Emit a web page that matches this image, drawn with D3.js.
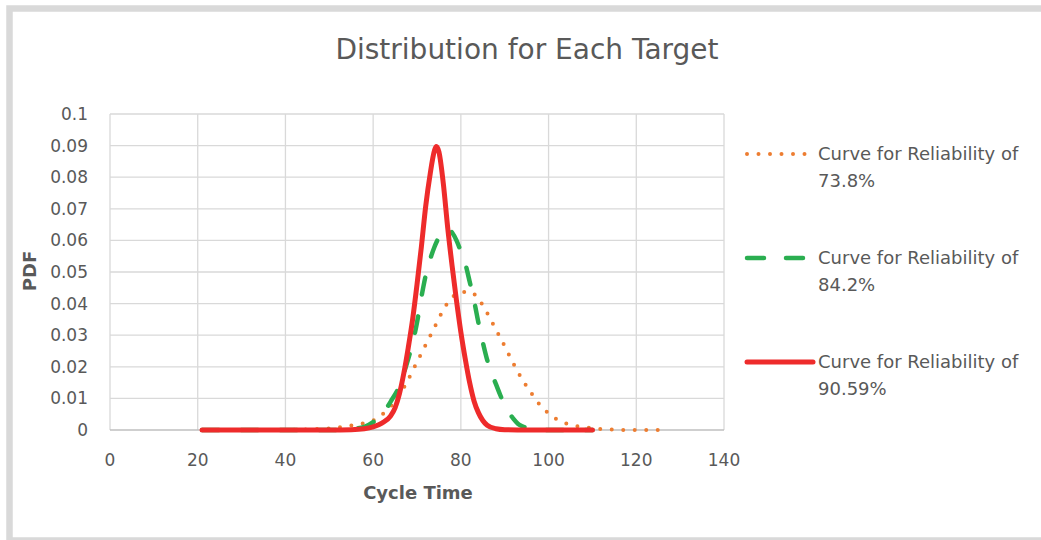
<!DOCTYPE html>
<html>
<head>
<meta charset="utf-8">
<script src="https://cdn.jsdelivr.net/npm/d3@7"></script>
<style>
  body { margin: 0; background: #fff; }
  text { font-family: "DejaVu Sans", sans-serif; fill: #595959; }
</style>
</head>
<body>
<div id="chart"></div>
<script>
// values
var vTitle = "Distribution for Each Target";
var vXTicks = [0, 20, 40, 60, 80, 100, 120, 140];
var vYTicks = [0, 0.01, 0.02, 0.03, 0.04, 0.05, 0.06, 0.07, 0.08, 0.09, 0.1];

var vOrangeX = [21, 40, 45, 50, 54, 56, 58, 60, 62, 64, 66, 68, 70, 72, 74, 76, 78, 80, 82, 84, 86, 88, 90, 92, 94, 96, 98, 100, 102, 104, 106, 108, 110, 112, 115, 120, 125];
var vOrangeY = [0, 0, 0.0002, 0.0005, 0.0012, 0.0017, 0.0022, 0.003, 0.0048, 0.0075, 0.011, 0.016, 0.0215, 0.027, 0.0325, 0.038, 0.042, 0.0435, 0.0438, 0.0415, 0.037, 0.0318, 0.0265, 0.021, 0.016, 0.0118, 0.008, 0.0053, 0.0033, 0.0021, 0.0013, 0.0009, 0.0006, 0.0003, 0.0001, 0, 0];

var vGreenX = [21, 50, 55, 58, 60, 62, 63, 64, 66, 67, 68, 69, 70, 71, 72, 73, 74, 75, 76, 77, 78, 79, 80, 81, 82, 83, 84, 85, 86, 87, 88, 89, 90, 91, 92, 93, 94, 96, 98, 100, 110];
var vGreenY = [0, 0, 0.0003, 0.001, 0.0025, 0.005, 0.0068, 0.009, 0.014, 0.018, 0.0225, 0.0275, 0.034, 0.042, 0.049, 0.054, 0.058, 0.061, 0.063, 0.0637, 0.0625, 0.06, 0.0565, 0.0527, 0.047, 0.041, 0.034, 0.0278, 0.0222, 0.018, 0.0145, 0.011, 0.0078, 0.0055, 0.0035, 0.002, 0.0012, 0.0004, 0.0001, 0, 0];

var vRedX = [21, 40, 50, 55, 58, 60, 62, 64, 65, 66, 67, 68, 69, 70, 71, 72, 73, 74, 74.4, 75, 76, 77, 78, 79, 80, 81, 82, 83, 84, 85, 86, 88, 90, 95, 110];
var vRedY = [0, 0, 0, 0.0001, 0.0004, 0.001, 0.0022, 0.0045, 0.007, 0.0115, 0.018, 0.026, 0.035, 0.046, 0.058, 0.071, 0.081, 0.0885, 0.0897, 0.088, 0.078, 0.064, 0.052, 0.041, 0.031, 0.0225, 0.015, 0.0092, 0.0055, 0.003, 0.0015, 0.0004, 0.0001, 0, 0];

var vSeriesNames = ["Curve for Reliability of", "Curve for Reliability of", "Curve for Reliability of"];
var vSeriesPcts = ["73.8%", "84.2%", "90.59%"];

// build series from the arrays
var vSeries = [
    { mX: vOrangeX, mY: vOrangeY, mColor: "#ed7d31", mWidth: 4, mDash: "0 11.5" },
    { mX: vGreenX, mY: vGreenY, mColor: "#2aae50", mWidth: 4.5, mDash: "17 22" },
    { mX: vRedX, mY: vRedY, mColor: "#ee2b2b", mWidth: 5, mDash: null }
];

var vWidth = 1041, vHeight = 540;

var svg = d3.select("#chart")
    .append("svg")
    .attr("width", vWidth)
    .attr("height", vHeight);

// outer frame
svg.append("rect")
    .attr("x", 9.5)
    .attr("y", 8.5)
    .attr("width", vWidth + 20)
    .attr("height", 532)
    .attr("fill", "none")
    .attr("stroke", "#d9d9d9")
    .attr("stroke-width", 6.5);

var x = d3.scaleLinear().domain([0, 140]).range([110, 724]);
var y = d3.scaleLinear().domain([0, 0.1]).range([430, 114]);

// gridlines
svg.append("g")
    .selectAll("line")
    .data(vYTicks.slice(1))
    .enter()
    .append("line")
    .attr("x1", x(0)).attr("x2", x(140))
    .attr("y1", function (d) { return y(d); })
    .attr("y2", function (d) { return y(d); })
    .attr("stroke", "#d9d9d9")
    .attr("stroke-width", 1.3);

svg.append("g")
    .selectAll("line")
    .data(vXTicks)
    .enter()
    .append("line")
    .attr("x1", function (d) { return x(d); })
    .attr("x2", function (d) { return x(d); })
    .attr("y1", y(0)).attr("y2", y(0.1))
    .attr("stroke", "#d9d9d9")
    .attr("stroke-width", 1.3);

// baseline
svg.append("line")
    .attr("x1", x(0)).attr("x2", x(140))
    .attr("y1", y(0)).attr("y2", y(0))
    .attr("stroke", "#bfbfbf")
    .attr("stroke-width", 1.5);

// tick labels
svg.append("g")
    .selectAll("text")
    .data(vYTicks)
    .enter()
    .append("text")
    .attr("x", 88)
    .attr("y", function (d) { return y(d); })
    .attr("dy", "0.35em")
    .attr("text-anchor", "end")
    .style("font-size", "17px")
    .text(function (d) { return d3.format("~g")(d); });

svg.append("g")
    .selectAll("text")
    .data(vXTicks)
    .enter()
    .append("text")
    .attr("x", function (d) { return x(d); })
    .attr("y", 460)
    .attr("dy", "0.35em")
    .attr("text-anchor", "middle")
    .style("font-size", "17px")
    .text(function (d) { return d; });

// titles
svg.append("text")
    .attr("x", 527)
    .attr("y", 59)
    .attr("text-anchor", "middle")
    .style("font-size", "28px")
    .text(vTitle);

svg.append("text")
    .attr("x", 418)
    .attr("y", 493)
    .attr("dy", "0.35em")
    .attr("text-anchor", "middle")
    .style("font-size", "18px")
    .style("font-weight", "bold")
    .text("Cycle Time");

svg.append("text")
    .attr("transform", "translate(30,271)rotate(-90)")
    .attr("dy", "0.35em")
    .attr("text-anchor", "middle")
    .style("font-size", "18px")
    .style("font-weight", "bold")
    .text("PDF");

// curves
var line = d3.line()
    .x(function (d) { return x(d[0]); })
    .y(function (d) { return y(d[1]); })
    .curve(d3.curveMonotoneX);

vSeries.forEach(function (s) {
    var vPts = s.mX.map(function (v, i) { return [v, s.mY[i]]; });
    svg.append("path")
        .datum(vPts)
        .attr("d", line)
        .attr("fill", "none")
        .attr("stroke", s.mColor)
        .attr("stroke-width", s.mWidth)
        .attr("stroke-linecap", "round")
        .attr("stroke-linejoin", "round")
        .attr("stroke-dasharray", s.mDash);
});

// legend
var vLegendY = [154, 258, 362];
var vLegendEnd = [806, 808, 813];
vSeries.forEach(function (s, i) {
    var g = svg.append("g");
    g.append("line")
        .attr("x1", 747).attr("x2", vLegendEnd[i])
        .attr("y1", vLegendY[i]).attr("y2", vLegendY[i])
        .attr("stroke", s.mColor)
        .attr("stroke-width", s.mWidth)
        .attr("stroke-linecap", "round")
        .attr("stroke-dasharray", s.mDash);
    g.append("text")
        .attr("x", 818)
        .attr("y", vLegendY[i])
        .attr("dy", "0.35em")
        .style("font-size", "18px")
        .text(vSeriesNames[i]);
    g.append("text")
        .attr("x", 818)
        .attr("y", vLegendY[i] + 27)
        .attr("dy", "0.35em")
        .style("font-size", "18px")
        .text(vSeriesPcts[i]);
});
</script>
</body>
</html>
